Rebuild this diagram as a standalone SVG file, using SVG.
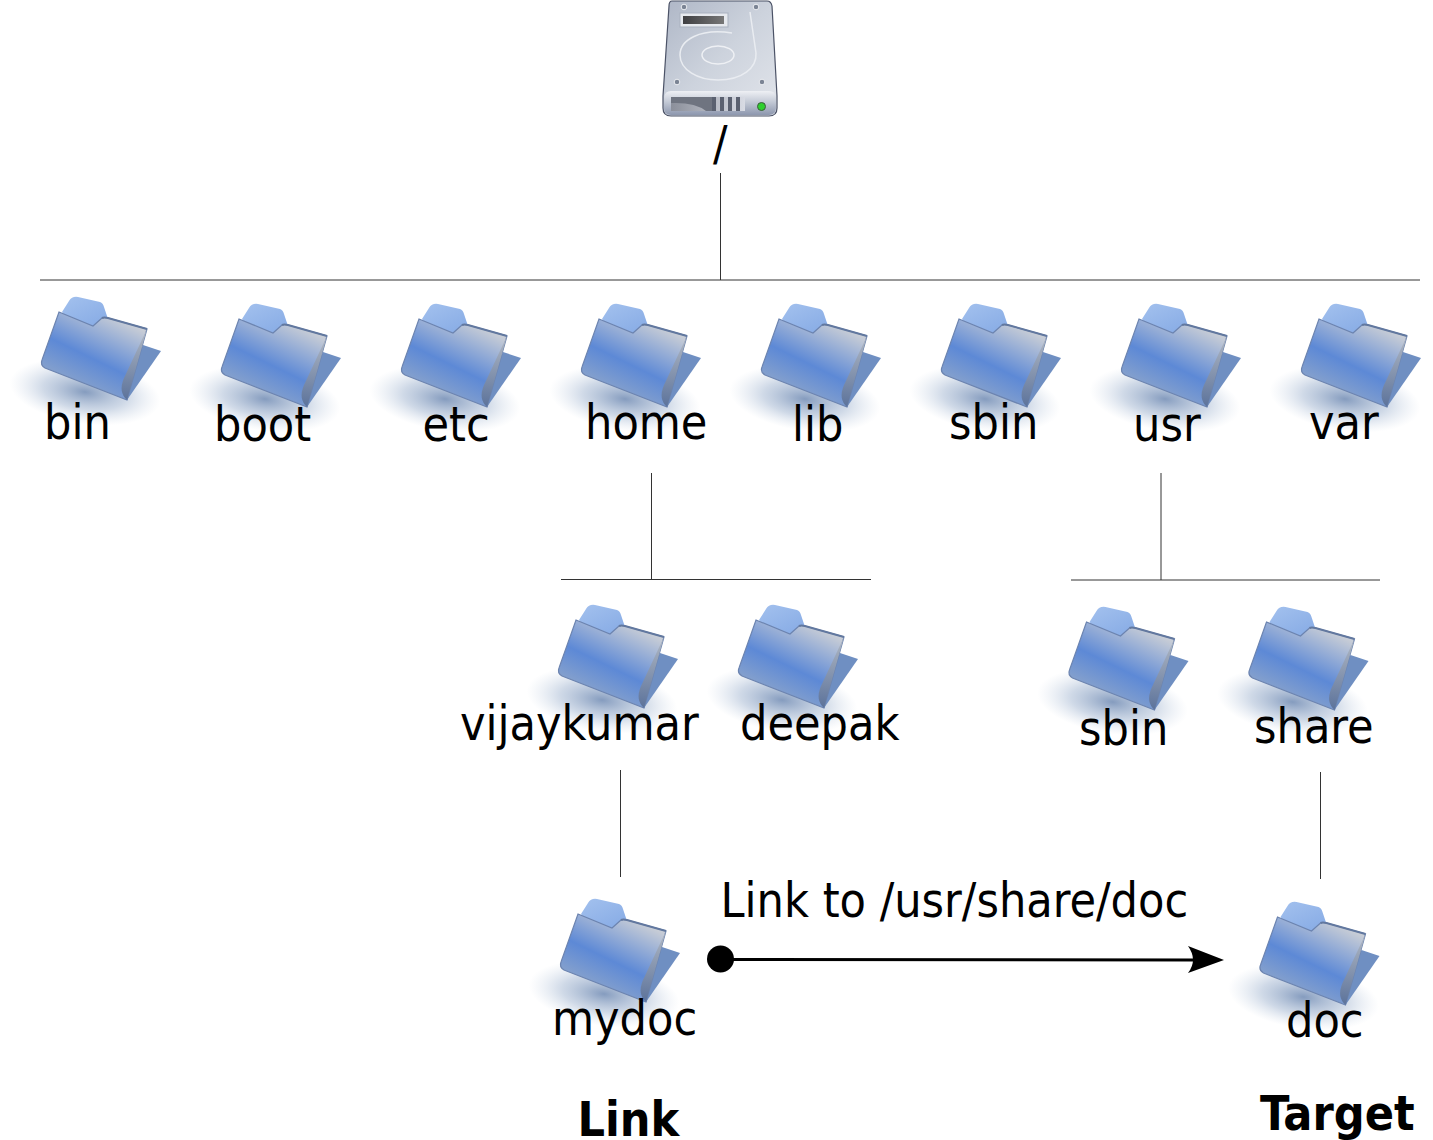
<svg xmlns="http://www.w3.org/2000/svg" width="1433" height="1140" viewBox="0 0 1433 1140">
<style>
text{font-family:"DejaVu Sans Condensed","DejaVu Sans",sans-serif;font-stretch:condensed;font-size:48px;fill:#000}
.b{font-weight:bold}
.l{stroke:#333;stroke-width:1;fill:none}
</style>
<defs>
<radialGradient id="sh" cx="0.5" cy="0.5" r="0.5"><stop offset="0" stop-color="#6f8ab3" stop-opacity=".85"/><stop offset=".55" stop-color="#9fb3cf" stop-opacity=".5"/><stop offset="1" stop-color="#c5d2e3" stop-opacity="0"/></radialGradient>
<linearGradient id="tab" x1="0" y1="0" x2="0.4" y2="1"><stop offset="0" stop-color="#a3c1ee"/><stop offset="1" stop-color="#5f8cd8"/></linearGradient>
<linearGradient id="fr" gradientUnits="userSpaceOnUse" x1="118" y1="318" x2="82" y2="392"><stop offset="0" stop-color="#c8cdd6"/><stop offset=".58" stop-color="#5d89d6"/><stop offset="1" stop-color="#8ba4cb"/></linearGradient>
<linearGradient id="sd" gradientUnits="userSpaceOnUse" x1="135" y1="335" x2="130" y2="398"><stop offset="0" stop-color="#a9b2c0"/><stop offset="1" stop-color="#5f759c"/></linearGradient>
<g id="folder">
<ellipse cx="85" cy="392" rx="76" ry="32" transform="rotate(8 85 392)" fill="url(#sh)"/>
<path d="M62 312L69 301Q72 296 78 297L100 302Q103 303 104 307L108 319L147 329L127 400Z" fill="url(#tab)"/>
<path d="M143 345L161 351L127 400L120 392Z" fill="#6f8fc2"/>
<path d="M59 312L93 326L102 318Q104 317 108 318L147 329L127 400L45 368Q40 365 42 360Z" fill="url(#fr)" stroke="#6c84b0" stroke-width="1.200"/>
<path d="M147 329L127 400Q118 392 124 378Z" fill="url(#sd)"/>
<path d="M102 318Q104 317 108 318L147 329" fill="none" stroke="#62789f" stroke-width="2"/>
</g>
<linearGradient id="hd" x1="0" y1="0" x2="1" y2="1"><stop offset="0" stop-color="#aeb6c6"/><stop offset=".5" stop-color="#cdd3dd"/><stop offset="1" stop-color="#e2e5eb"/></linearGradient>
<linearGradient id="hf" x1="0" y1="0" x2="0" y2="1"><stop offset="0" stop-color="#eef0f4"/><stop offset=".45" stop-color="#c4cad6"/><stop offset="1" stop-color="#8d97ae"/></linearGradient>
<linearGradient id="hl" x1="0" y1="0" x2="1" y2="0"><stop offset="0" stop-color="#3f3f42"/><stop offset="1" stop-color="#777"/></linearGradient>
<linearGradient id="hw" x1="0" y1="0" x2="1" y2="0"><stop offset="0" stop-color="#8b8f9a"/><stop offset="1" stop-color="#d8dbe4"/></linearGradient>
</defs>
<g id="connectors">
<path class="l" d="M720.500 173V280M40 280H1420M651.500 473V579.500M561 579.500H871M1161 473V580M1071 580H1380M620.500 770V877M1320.500 772V879"/>
<circle cx="720.500" cy="959" r="13.500"/>
<path d="M720 959.500L1195 960" stroke="#000" stroke-width="3" fill="none"/>
<path d="M1224 960L1188 946Q1198 960 1188 973Z"/>
</g>
<g id="root">
<path d="M672 1H767Q771 1 772 6L777 96V108Q777 116 769 116H671Q663 116 663 108V96L669 6Q669 1 672 1Z" fill="url(#hd)" stroke="#4b5266" stroke-width="1.200"/>
<path d="M664 97Q665 91 671 91H769Q775 91 776 97V108Q776 115 769 115H671Q664 115 664 108Z" fill="url(#hf)"/>
<rect x="680" y="13" width="48" height="14" fill="#e6e9ee" stroke="#a9b1bf"/>
<rect x="683" y="16" width="41" height="8" fill="url(#hl)"/>
<path d="M732 33C700 28 680 40 680 55C680 70 698 80 718 80C742 80 757 68 756 53L750 12" fill="none" stroke="#e9ecf1" stroke-width="1.500"/>
<ellipse cx="718" cy="55" rx="16" ry="9" fill="none" stroke="#eef0f4" stroke-width="1.500"/>
<g fill="#7b8494" stroke="#eceef2"><circle cx="684" cy="7" r="2.800"/><circle cx="756" cy="7" r="2.800"/><circle cx="677" cy="82" r="2.800"/><circle cx="762" cy="82" r="2.800"/></g>
<rect x="671" y="97" width="74" height="14" fill="url(#hw)"/>
<path d="M671 97H712V111H706Q695 102 671 103Z" fill="#6f7480"/>
<path d="M712 97h4v14h-4zM720 97h4v14h-4zM728 97h4v14h-4zM736 97h4v14h-4z" fill="#5b6170"/>
<circle cx="761.500" cy="106.500" r="4" fill="#2dcf2d" stroke="#3d5a3d"/>
<text x="713" y="160">/</text>
</g>
<g id="bin"><use href="#folder"/><text x="44" y="439">bin</text></g>
<g id="boot"><use href="#folder" x="180" y="7"/><text x="214" y="441">boot</text></g>
<g id="etc"><use href="#folder" x="360" y="7"/><text x="422.500" y="441">etc</text></g>
<g id="home"><use href="#folder" x="540" y="7"/><text x="585" y="439">home</text></g>
<g id="lib"><use href="#folder" x="720" y="7"/><text x="792" y="441">lib</text></g>
<g id="sbin"><use href="#folder" x="900" y="7"/><text x="949" y="439">sbin</text></g>
<g id="usr"><use href="#folder" x="1080" y="7"/><text x="1133" y="441">usr</text></g>
<g id="var"><use href="#folder" x="1260" y="7"/><text x="1309" y="439">var</text></g>
<g id="vijaykumar"><use href="#folder" x="517" y="308"/><text x="460" y="740">vijaykumar</text></g>
<g id="deepak"><use href="#folder" x="697" y="308"/><text x="740" y="740">deepak</text></g>
<g id="usr-sbin"><use href="#folder" x="1027.500" y="310"/><text x="1079" y="745">sbin</text></g>
<g id="share"><use href="#folder" x="1207.500" y="310"/><text x="1254" y="743">share</text></g>
<g id="mydoc"><use href="#folder" x="519" y="602"/><text x="552" y="1035">mydoc</text></g>
<g id="doc"><use href="#folder" x="1218.500" y="605"/><text x="1286" y="1037">doc</text></g>
<text x="720.500" y="917">Link to /usr/share/doc</text>
<text class="b" x="577.500" y="1136">Link</text>
<text class="b" x="1260" y="1130">Target</text>
</svg>
